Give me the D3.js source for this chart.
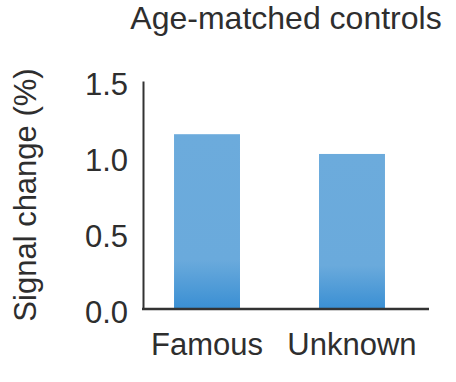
<!DOCTYPE html>
<html>
<head>
<meta charset="utf-8">
<script src="https://cdn.jsdelivr.net/npm/d3@7"></script>
<style>
  html, body { margin: 0; padding: 0; background: #fff; }
  svg { display: block; }
  text { font-family: "Liberation Sans", Arial, Helvetica, sans-serif; fill: #2e2e2e; }
</style>
</head>
<body>
<svg id="chart" width="456" height="382"></svg>
<script>
const categories = ["Famous", "Unknown"];
const values = [1.15, 1.02];
const yTicks = [0, 0.5, 1.0, 1.5];
const title = "Age-matched controls";
const yTitle = "Signal change (%)";

const svg = d3.select("#chart");
const mLeft = 143, mTop = 81, mBottom = 309, mRight = 429;
const fontSize = 31;

const defs = svg.append("defs");
const grad = defs.append("linearGradient")
  .attr("id", "barGrad").attr("x1", 0).attr("y1", 0).attr("x2", 0).attr("y2", 1);
grad.append("stop").attr("offset", "0%").attr("stop-color", "#6cabdc");
grad.append("stop").attr("offset", "72%").attr("stop-color", "#6aaadc");
grad.append("stop").attr("offset", "100%").attr("stop-color", "#3a8fd3");

const y = d3.scaleLinear().domain([0, 1.5]).range([mBottom, mTop]);
const x = d3.scaleBand().domain(categories).range([mLeft, 416])
  .paddingInner(0.545).paddingOuter(0.214);

// bars
svg.append("g").selectAll("rect")
  .data(categories.map((c, i) => ({ c, v: values[i] })))
  .join("rect")
  .attr("x", d => x(d.c))
  .attr("y", d => y(d.v))
  .attr("width", x.bandwidth())
  .attr("height", d => y(0) - y(d.v))
  .attr("fill", "url(#barGrad)");

// y axis
const yAxis = svg.append("g")
  .attr("transform", `translate(${mLeft},0)`)
  .call(d3.axisLeft(y).tickValues(yTicks).tickFormat(d3.format(".1f"))
    .tickSize(0).tickPadding(15));
yAxis.select(".domain").attr("stroke", "#333").attr("stroke-width", 2);
yAxis.selectAll(".tick text")
  .attr("font-size", fontSize)
  .attr("font-family", "Liberation Sans, Arial, sans-serif")
  .attr("fill", "#2e2e2e")
  .attr("dy", "0.42em");

// x axis
const xAxis = svg.append("g")
  .attr("transform", `translate(0,${mBottom})`)
  .call(d3.axisBottom(x).tickSize(0).tickPadding(24));
xAxis.select(".domain").remove();
xAxis.selectAll(".tick text")
  .attr("font-size", fontSize)
  .attr("font-family", "Liberation Sans, Arial, sans-serif")
  .attr("fill", "#2e2e2e");
svg.append("line")
  .attr("x1", mLeft - 1).attr("x2", mRight)
  .attr("y1", mBottom).attr("y2", mBottom)
  .attr("stroke", "#333").attr("stroke-width", 2.5);

// title
svg.append("text")
  .attr("x", 286).attr("y", 29)
  .attr("text-anchor", "middle")
  .attr("font-size", 32)
  .text(title);

// y title
svg.append("text")
  .attr("transform", "translate(36,195) rotate(-90)")
  .attr("text-anchor", "middle")
  .attr("font-size", fontSize)
  .text(yTitle);
</script>
</body>
</html>
